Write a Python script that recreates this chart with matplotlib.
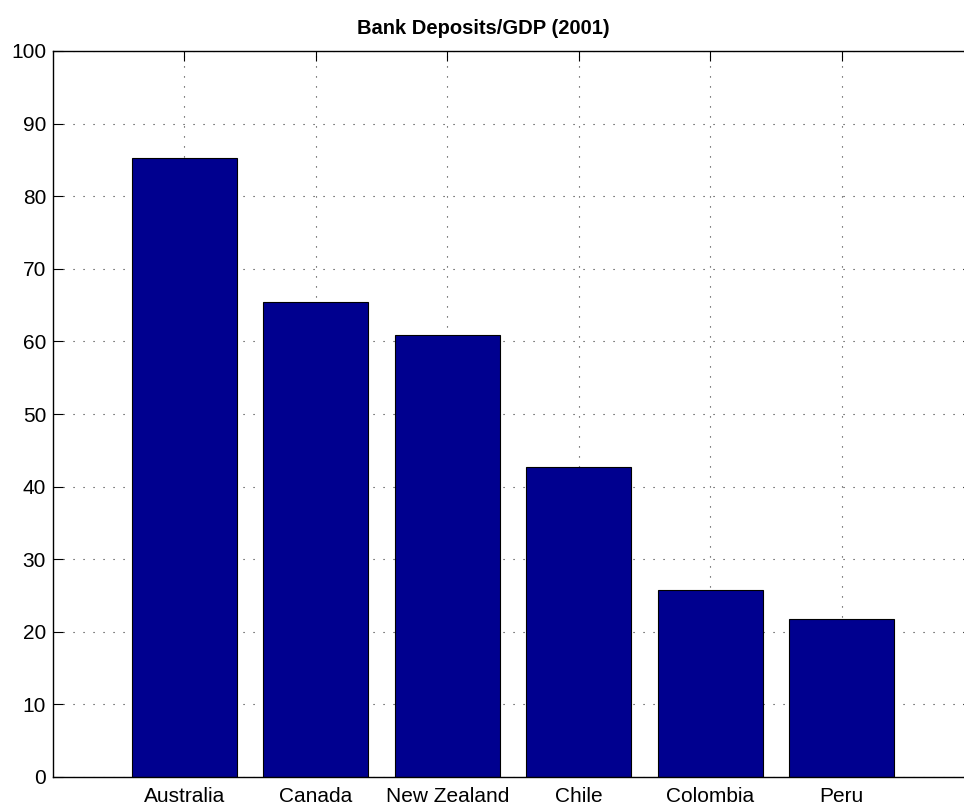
import matplotlib
matplotlib.use("Agg")
import matplotlib.pyplot as plt

countries = ["Australia", "Canada", "New Zealand", "Chile", "Colombia", "Peru"]
deposits_gdp = [85.3, 65.4, 60.9, 42.7, 25.7, 21.7]
y_ticks = [0, 10, 20, 30, 40, 50, 60, 70, 80, 90, 100]

plt.rcParams["font.family"] = ["Liberation Sans", "DejaVu Sans"]

fig = plt.figure(figsize=(9.64, 8.07), dpi=100)
# axes runs past the right edge, like the cropped original
ax = fig.add_axes([53 / 964, 1 - 777 / 807, 920 / 964, 726 / 807])

pos = list(range(1, len(countries) + 1))
ax.bar(pos, deposits_gdp, width=0.8, color="#00008F", edgecolor="black", linewidth=0.8, zorder=2)

ax.set_xlim(0, 7)
ax.set_ylim(0, 100)
ax.set_xticks(pos)
ax.set_xticklabels(countries)
ax.set_yticks(y_ticks)

ax.grid(True, color="#333333", linestyle=(0, (1, 8)), linewidth=0.8, zorder=0)
ax.set_axisbelow(True)
ax.tick_params(direction="in", length=7, width=0.8, labelsize=15,
               top=True, right=True)
ax.tick_params(axis="x", pad=7)
ax.tick_params(axis="y", pad=5)
for s in ax.spines.values():
    s.set_linewidth(1.0)

ax.set_title("Bank Deposits/GDP (2001)", fontsize=14.5, fontweight="bold", pad=12,
             x=(483 - 53) / 920)

fig.savefig("out.png", dpi=100)
